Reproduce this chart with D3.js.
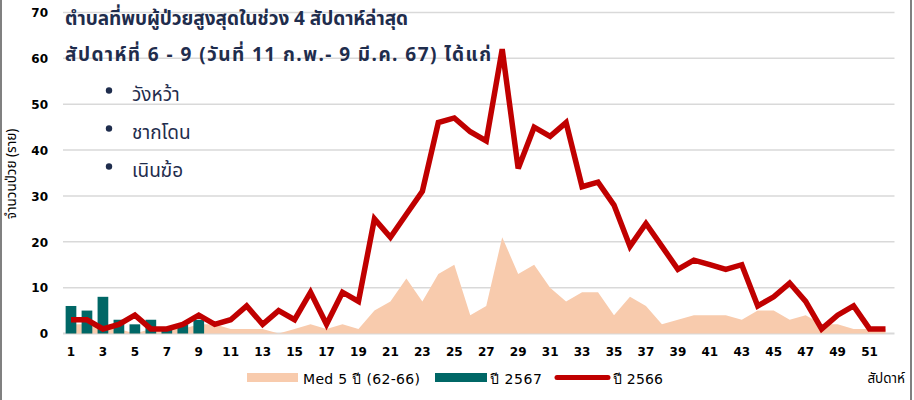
<!DOCTYPE html>
<html>
<head>
<meta charset="utf-8">
<script src="https://cdn.jsdelivr.net/npm/d3@7"></script>
<style>
  html, body { margin: 0; padding: 0; background: #fff; }
  svg { display: block; }
</style>
</head>
<body>
<svg id="chart" width="914" height="400"></svg>
<script>
// ---- data ----
const weeks = d3.range(1, 53);
const med5y = [2,2,2,1,0,1,1,1,2,2,1,1,1,0,1,2,1,2,1,5,7,12,7,13,15,4,6,21,13,15,10,7,9,9,4,8,6,2,3,4,4,4,3,5,5,3,4,2,2,1,1,1];
const y2567 = [6,5,8,3,2,3,1,2,3];
const y2566 = [3,3,1,2,4,1,1,2,4,2,3,6,2,5,3,9,2,9,7,25,21,26,31,46,47,44,42,62,36,45,43,46,32,33,28,19,24,19,14,16,15,14,15,6,8,11,7,1,4,6,1,1];
const yTicks = [0,10,20,30,40,50,60,70];
const xTickWeeks = weeks.filter(w => w % 2 === 1);
const titleLines = ["ตำบลที่พบผู้ป่วยสูงสุดในช่วง 4 สัปดาห์ล่าสุด", "สัปดาห์ที่ 6 - 9 (วันที่ 11 ก.พ.- 9 มี.ค. 67) ได้แก่"];
const districts = ["วังหว้า", "ชากโดน", "เนินฆ้อ"];
const legendLabels = ["Med 5 ปี (62-66)", "ปี 2567", "ปี 2566"];
const yTitle = "จำนวนป่วย (ราย)";
const xTitle = "สัปดาห์";

// ---- style ----
const cPeach = "#f8cbad", cTeal = "#006766", cRed = "#c00000", cGrid = "#d9d9d9", cNavy = "#1f2d4d";
const fontNum = "'DejaVu Sans', Tahoma, sans-serif";
const fontThai = "Tahoma, 'Noto Sans Thai', 'Leelawadee UI', sans-serif";
const titleWidths = [343, 426];
const legendWidths = [117, 52, 50];

const svg = d3.select("#chart");

// border
svg.append("line").attr("x1", 1).attr("x2", 1).attr("y1", 0).attr("y2", 400).attr("stroke", "#808080").attr("stroke-width", 2);
svg.append("line").attr("x1", 911).attr("x2", 911).attr("y1", 0).attr("y2", 400).attr("stroke", "#808080").attr("stroke-width", 2);

const x = d3.scaleBand().domain(weeks).range([63, 893.5]).padding(0);
const xb = d3.scaleBand().domain(weeks).range([63, 893.5]).paddingInner(0.33).paddingOuter(0.165);
const y = d3.scaleLinear().domain([0, 70]).range([333.5, 12.5]);
const cx = w => x(w) + x.bandwidth() / 2;

// gridlines
svg.append("g").selectAll("line").data(yTicks).join("line")
  .attr("x1", 63).attr("x2", 894.5)
  .attr("y1", d => y(d)).attr("y2", d => y(d))
  .attr("stroke", cGrid).attr("stroke-width", d => d === 0 ? 2 : 1.5);

// y axis labels
const yAxis = d3.axisLeft(y).tickValues(yTicks).tickSize(0).tickPadding(0);
const gy = svg.append("g").attr("transform", "translate(48,0)").call(yAxis);
gy.select(".domain").remove();
gy.selectAll("text").attr("font-family", fontNum).attr("font-weight", "bold").attr("font-size", 12).attr("fill", "#000").attr("dy", "0.36em");

// x axis labels
const xAxis = d3.axisBottom(x).tickValues(xTickWeeks).tickSize(0).tickPadding(0);
const gx = svg.append("g").attr("transform", "translate(0,347)").call(xAxis);
gx.select(".domain").remove();
gx.selectAll("text").attr("font-family", fontNum).attr("font-weight", "bold").attr("font-size", 12).attr("fill", "#000").attr("dy", "0.71em");

// area (Med 5 years)
const area = d3.area().x((d, i) => cx(weeks[i])).y0(y(0)).y1(d => y(d));
svg.append("path").datum(med5y).attr("d", area).attr("fill", cPeach);

// bars (2567)
svg.append("g").selectAll("rect").data(y2567).join("rect")
  .attr("x", (d, i) => xb(weeks[i])).attr("width", xb.bandwidth())
  .attr("y", d => y(d)).attr("height", d => y(0) - y(d))
  .attr("fill", cTeal);

// line (2566)
const line = d3.line().x((d, i) => cx(weeks[i])).y(d => y(d));
svg.append("path").datum(y2566).attr("d", line).attr("fill", "none")
  .attr("stroke", cRed).attr("stroke-width", 5.5).attr("stroke-linejoin", "miter").attr("stroke-linecap", "butt");

// y title
svg.append("text").attr("transform", "translate(16,174) rotate(-90)")
  .attr("text-anchor", "middle").attr("font-family", fontThai).attr("font-size", 13.5).attr("fill", "#000")
  .text(yTitle);

// x title
svg.append("text").attr("x", 905).attr("y", 383).attr("text-anchor", "end")
  .attr("font-family", fontThai).attr("font-size", 13.5).attr("fill", "#000").text(xTitle);

// title block
svg.append("g").selectAll("text").data(titleLines).join("text")
  .attr("x", 65).attr("y", (d, i) => 24.5 + i * 36.5)
  .attr("font-family", fontThai).attr("font-weight", "bold").attr("font-size", 19).attr("fill", cNavy)
  .attr("textLength", (d, i) => titleWidths[i]).attr("lengthAdjust", "spacing")
  .text(d => d);
const items = svg.append("g").selectAll("g").data(districts).join("g")
  .attr("transform", (d, i) => `translate(0,${100.5 + i * 38})`);
items.append("circle").attr("cx", 109).attr("cy", -10).attr("r", 3.2).attr("fill", cNavy);
items.append("text").attr("x", 132).attr("y", 0)
  .attr("font-family", fontThai).attr("font-size", 19).attr("fill", cNavy).text(d => d);

// legend
const lg = svg.append("g");
const legText = (xx, i) => lg.append("text").attr("x", xx).attr("y", 383.5)
  .attr("font-family", fontNum).attr("font-size", 14).attr("fill", "#000")
  .attr("textLength", legendWidths[i]).attr("lengthAdjust", "spacing").text(legendLabels[i]);
lg.append("rect").attr("x", 247).attr("y", 373).attr("width", 51).attr("height", 9).attr("fill", cPeach);
legText(303, 0);
lg.append("rect").attr("x", 435).attr("y", 373).attr("width", 52).attr("height", 9).attr("fill", cTeal);
legText(490, 1);
lg.append("line").attr("x1", 557).attr("x2", 608).attr("y1", 377.5).attr("y2", 377.5)
  .attr("stroke", cRed).attr("stroke-width", 5).attr("stroke-linecap", "round");
legText(613, 2);
</script>
</body>
</html>
